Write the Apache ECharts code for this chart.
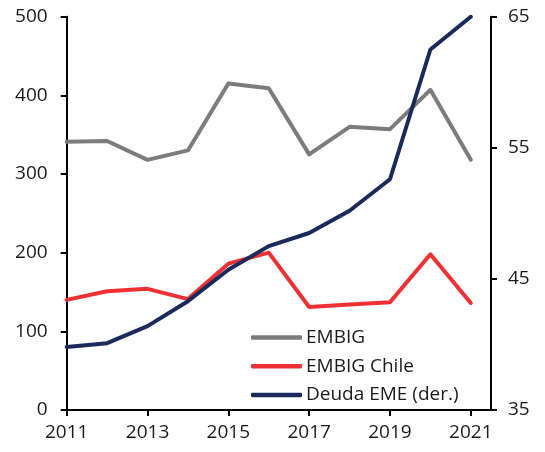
<!DOCTYPE html>
<html>
<head>
<meta charset="utf-8">
<script src="https://cdn.jsdelivr.net/npm/echarts@6/dist/echarts.min.js"></script>
<style>
  html, body { margin: 0; padding: 0; background: #ffffff; }
  #chart { width: 545px; height: 452px; }
</style>
</head>
<body>
<div id="chart"></div>
<script>
// Years on the horizontal axis
const years = [2011, 2012, 2013, 2014, 2015, 2016, 2017, 2018, 2019, 2020, 2021];
const yearTicks = [2011, 2013, 2015, 2017, 2019, 2021];

// Spreads (left axis, bp)
const embig = [341, 342, 318, 330, 415, 409, 325, 360, 357, 407, 318];
const embigChile = [140, 151, 154, 141, 186, 200, 131, 134, 137, 198, 136];

// Emerging-market debt (right axis)
const deudaEME = [39.8, 40.1, 41.4, 43.3, 45.7, 47.5, 48.5, 50.2, 52.6, 62.5, 65.0];

const seriesNames = ['EMBIG', 'EMBIG Chile', 'Deuda EME (der.)'];
const seriesColors = ['#7a7c7e', '#ee3135', '#1b2a5c'];

const FONT = 'Open Sans';
const TEXT = '#1a1a1a';

const pairs = (xs, ys) => xs.map((x, i) => [x, ys[i]]);

const axisLineStyle = { show: true, lineStyle: { color: '#000', width: 2 } };
const axisTickStyle = { show: true, inside: false, length: 6, lineStyle: { color: '#000', width: 2 } };

const chart = echarts.init(document.getElementById('chart'), null, { renderer: 'canvas' });

const lineSeries = (name, data, color, yIndex) => ({
  name: name,
  type: 'line',
  yAxisIndex: yIndex,
  data: data,
  symbol: 'none',
  showSymbol: false,
  smooth: false,
  lineStyle: { color: color, width: 4, cap: 'round', join: 'round' },
  itemStyle: { color: color },
  emphasis: { disabled: true },
  animation: false
});

chart.setOption({
  animation: false,
  backgroundColor: '#ffffff',
  textStyle: { fontFamily: FONT, color: TEXT },
  grid: { left: 66.7, right: 54, top: 16.7, bottom: 42, containLabel: false },
  legend: {
    orient: 'vertical',
    left: 246,
    top: 322.5,
    icon: 'roundRect',
    itemWidth: 51,
    itemHeight: 4.5,
    itemGap: 8.7,
    data: seriesNames,
    textStyle: { fontFamily: FONT, fontSize: 19, color: TEXT, lineHeight: 20, padding: [0, 0, 0, -1] }
  },
  xAxis: {
    type: 'value',
    min: 2011,
    max: 2021.5,
    axisLine: axisLineStyle,
    axisTick: Object.assign({ customValues: yearTicks }, axisTickStyle),
    axisLabel: {
      customValues: yearTicks,
      formatter: (v) => String(v),
      fontFamily: FONT, fontSize: 19, color: TEXT, margin: 13
    },
    splitLine: { show: false }
  },
  yAxis: [
    {
      type: 'value',
      position: 'left',
      min: 0,
      max: 500,
      interval: 100,
      axisLine: axisLineStyle,
      axisTick: axisTickStyle,
      axisLabel: { fontFamily: FONT, fontSize: 19, color: TEXT, margin: 19 },
      splitLine: { show: false }
    },
    {
      type: 'value',
      position: 'right',
      min: 35,
      max: 65,
      interval: 10,
      axisLine: axisLineStyle,
      axisTick: axisTickStyle,
      axisLabel: { fontFamily: FONT, fontSize: 19, color: TEXT, margin: 17 },
      splitLine: { show: false }
    }
  ],
  series: [
    lineSeries(seriesNames[0], pairs(years, embig), seriesColors[0], 0),
    lineSeries(seriesNames[1], pairs(years, embigChile), seriesColors[1], 0),
    lineSeries(seriesNames[2], pairs(years, deudaEME), seriesColors[2], 1)
  ]
});
</script>
</body>
</html>
